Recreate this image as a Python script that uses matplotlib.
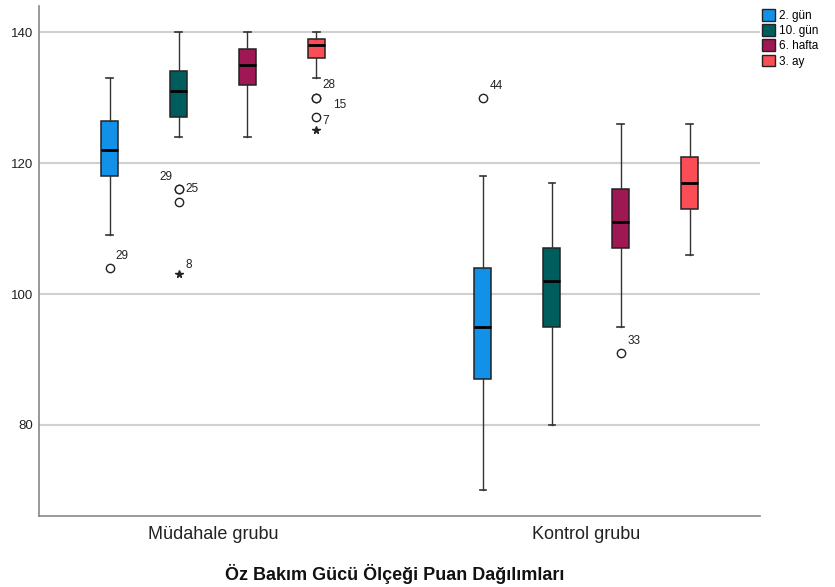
import matplotlib
matplotlib.use("Agg")
import matplotlib.pyplot as plt
from matplotlib.patches import Patch

plt.rcParams['font.family'] = ['Liberation Sans', 'DejaVu Sans']

# ---------------- data ----------------
groups = ["Müdahale grubu", "Kontrol grubu"]
series = ["2. gün", "10. gün", "6. hafta", "3. ay"]
colors = ["#1192e8", "#005d5d", "#9f1853", "#fa4d56"]

mud_whislo = [109, 124, 124, 133]
mud_q1 = [118, 127, 132, 136]
mud_med = [122, 131, 135, 138]
mud_q3 = [126.5, 134, 137.5, 139]
mud_whishi = [133, 140, 140, 140]

kon_whislo = [70, 80, 95, 106]
kon_q1 = [87, 95, 107, 113]
kon_med = [95, 102, 111, 117]
kon_q3 = [104, 107, 116, 121]
kon_whishi = [118, 117, 126, 126]

# outliers (circles): group index, series index, value, case label
out_group = [0, 0, 0, 0, 0, 0, 0, 1, 1]
out_series = [0, 1, 1, 1, 3, 3, 3, 0, 2]
out_value = [104, 116, 116, 114, 130, 130, 127, 130, 91]
out_label = ["29", "29", "25", "", "28", "15", "7", "44", "33"]

# extremes (stars)
ext_group = [0, 0]
ext_series = [1, 3]
ext_value = [103, 125]
ext_label = ["8", ""]

# label offsets in pixels (style only)
out_offset = [(12, 12), (-13, 12), (13, 0), (0, 0), (12, 13), (23, -7), (9, -4), (13, 12), (13, 12)]
ext_offset = [(10, 9), (0, 0)]

# ---------------- figure ----------------
fig = plt.figure(figsize=(8.35, 5.87), dpi=100)
ax = fig.add_axes([39 / 835, 71 / 587, 721 / 835, 510 / 587])

spacing = 0.1847
bwidth = 0.0455
capw = 0.018


def pos(g, s):
    return g + (s - 1.5) * spacing


all_stats = [
    (mud_whislo, mud_q1, mud_med, mud_q3, mud_whishi),
    (kon_whislo, kon_q1, kon_med, kon_q3, kon_whishi),
]

for g, (lo, q1, med, q3, hi) in enumerate(all_stats):
    for s in range(len(series)):
        st = [dict(whislo=lo[s], q1=q1[s], med=med[s], q3=q3[s], whishi=hi[s], fliers=[])]
        ax.bxp(st, positions=[pos(g, s)], widths=bwidth, patch_artist=True,
               showfliers=False, capwidths=capw,
               boxprops=dict(facecolor=colors[s], edgecolor="#222222", linewidth=1.1),
               medianprops=dict(color="black", linewidth=2.0),
               whiskerprops=dict(color="#333333", linewidth=1.0),
               capprops=dict(color="#333333", linewidth=1.2),
               manage_ticks=False, zorder=3)

for g, s, v, lab, off in zip(out_group, out_series, out_value, out_label, out_offset):
    x = pos(g, s)
    ax.plot([x], [v], marker='o', markersize=6.0, markerfacecolor='white',
            markeredgecolor='#222222', markeredgewidth=1.0, linestyle='none', zorder=4)
    if lab:
        ax.annotate(lab, (x, v), xytext=off, textcoords='offset pixels',
                    ha='center', va='center', fontsize=8.5, color='#222222', zorder=5)

for g, s, v, lab, off in zip(ext_group, ext_series, ext_value, ext_label, ext_offset):
    x = pos(g, s)
    ax.plot([x], [v], marker='*', markersize=5.5, color='#222222',
            linestyle='none', zorder=4)
    if lab:
        ax.annotate(lab, (x, v), xytext=off, textcoords='offset pixels',
                    ha='center', va='center', fontsize=8.5, color='#222222', zorder=5)

ax.set_xlim(-0.466, 1.465)
ax.set_ylim(66.1, 144.0)
ax.set_yticks([80, 100, 120, 140])
ax.set_xticks([0, 1])
ax.set_xticklabels(groups, fontsize=13, color='#222222')
ax.tick_params(axis='y', length=0, pad=4.5, labelsize=9.5, labelcolor='#222222')
ax.tick_params(axis='x', length=0, pad=7)
ax.grid(axis='y', color='#d0d0d0', linewidth=1.5, zorder=0)
ax.set_axisbelow(True)
for sp in ['top', 'right']:
    ax.spines[sp].set_visible(False)
for sp in ['left', 'bottom']:
    ax.spines[sp].set_color('#888888')
    ax.spines[sp].set_linewidth(1.2)

fig.text(395 / 835, 1 - 573.5 / 587, "Öz Bakım Gücü Ölçeği Puan Dağılımları",
         ha='center', va='center', fontsize=13, fontweight='bold', color='#111111')

handles = [Patch(facecolor=c, edgecolor='#222222', linewidth=1.0) for c in colors]
fig.legend(handles, series, loc='upper left', bbox_to_anchor=(761.5 / 835, 1 - 9 / 587),
           frameon=False, fontsize=8.5, handlelength=1.15, handleheight=1.15,
           labelspacing=0.2, handletextpad=0.3, borderpad=0, borderaxespad=0)

fig.savefig("out.png", dpi=100)
